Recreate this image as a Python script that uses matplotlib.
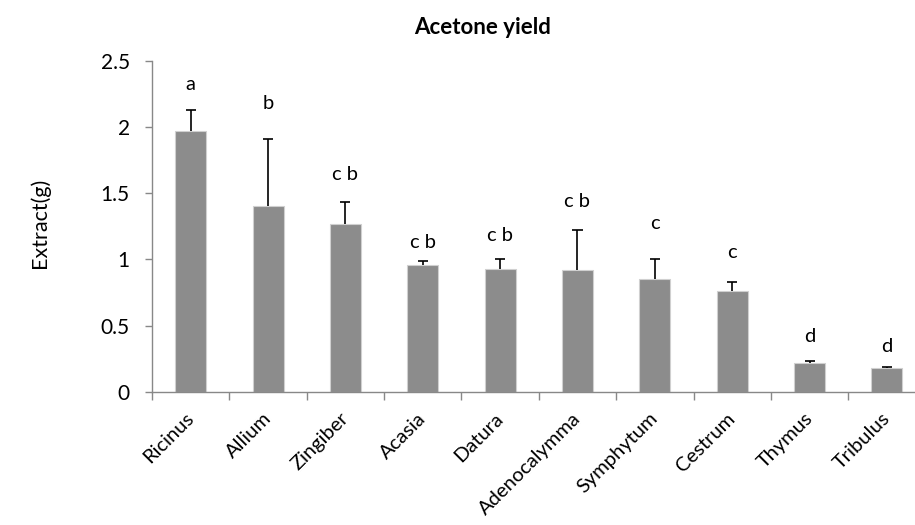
import numpy as np
import matplotlib
matplotlib.use("Agg")
import matplotlib.pyplot as plt
from matplotlib.transforms import ScaledTranslation

plt.rcParams['font.family'] = ['Lato', 'DejaVu Sans']

plants = ['Ricinus', 'Allium', 'Zingiber', 'Acasia', 'Datura',
          'Adenocalymma', 'Symphytum', 'Cestrum', 'Thymus', 'Tribulus']
yield_g = [1.97, 1.40, 1.265, 0.96, 0.927, 0.92, 0.852, 0.758, 0.214, 0.178]
err_up = [0.16, 0.51, 0.17, 0.025, 0.073, 0.30, 0.15, 0.073, 0.018, 0.012]
letters = ['a', 'b', 'c b', 'c b', 'c b', 'c b', 'c', 'c', 'd', 'd']
letter_y = [2.32, 2.18, 1.64, 1.13, 1.18, 1.44, 1.27, 1.05, 0.42, 0.345]

fig = plt.figure(figsize=(9.15, 5.25), dpi=100)
ax = fig.add_axes([152/915, 0.254, 773.6/915, 0.630])

x = np.arange(len(plants))
top = np.array(yield_g) + np.array(err_up)
ax.bar(x, yield_g, width=0.4, color='#8c8c8c', edgecolor='#d0d0d0', linewidth=0.8, zorder=2)
# upper error bars only, cap at top
ax.vlines(x, yield_g, top, color='black', linewidth=1.2, zorder=3)
ax.hlines(top, x - 0.065, x + 0.065, color='black', linewidth=1.2, zorder=3)

for xi, lab, ly in zip(x, letters, letter_y):
    ax.text(xi, ly, lab, ha='center', va='center', fontsize=14.5)

ax.set_xlim(-0.5, 9.5)
ax.set_ylim(0, 2.5)
ax.set_yticks([0, 0.5, 1, 1.5, 2, 2.5])
ax.set_yticklabels(['0', '0.5', '1', '1.5', '2', '2.5'], fontsize=15)
ax.set_xticks(x)
ax.set_xticklabels(plants, rotation=45, ha='right', rotation_mode='anchor', fontsize=14.5)
ax.tick_params(axis='x', which='major', length=0, pad=13)
ax.set_xticks(np.arange(-0.5, 10, 1), minor=True)
ax.tick_params(axis='x', which='minor', length=6, color='#888888', width=1)
ax.tick_params(axis='y', length=5, color='#888888', width=1, pad=11)

shift = ScaledTranslation(-4/72, 0, fig.dpi_scale_trans)
for lbl in ax.get_xticklabels():
    lbl.set_transform(lbl.get_transform() + shift)

for side in ['top', 'right']:
    ax.spines[side].set_visible(False)
for side in ['left', 'bottom']:
    ax.spines[side].set_color('#888888')
    ax.spines[side].set_linewidth(1)

fig.text(40/915, 1 - 223/525, 'Extract(g)', rotation=90, ha='center', va='center', fontsize=15.5)
fig.text(483/915, 1 - 27/525, 'Acetone yield', ha='center', va='center', fontsize=16, fontweight='bold')

fig.savefig('out.png', dpi=100)
